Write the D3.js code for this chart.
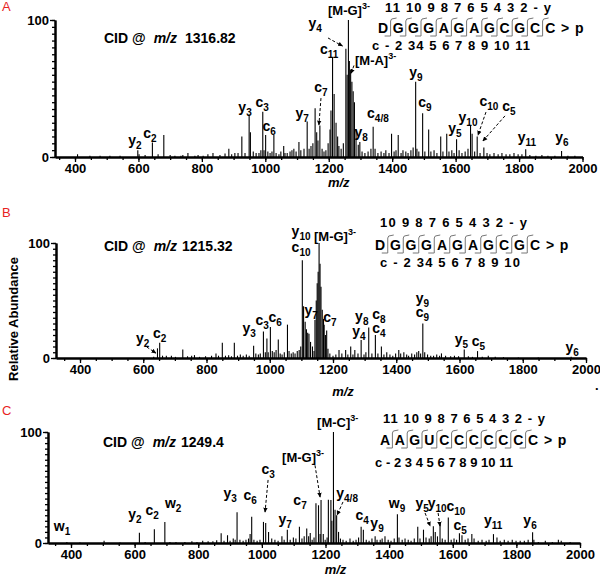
<!DOCTYPE html>
<html><head><meta charset="utf-8">
<script src="https://cdn.jsdelivr.net/npm/d3@7"></script>
<style>
body{margin:0;background:#fff}
svg{display:block}
text{font-family:'Liberation Sans',Arial,sans-serif;}
</style>
</head><body>
<svg id="c" width="600" height="578"></svg>
<script>
// ---------- DATA ----------
// [m/z, relative abundance %]
const peaksA = [[408,2],[447,1],[479,1],[510,1],[542,1],[598,5],[602,2],[621,1.5],[644,10.5],[662,2],[680,16],[700,1.5],[715,1],[734,1],[740,1.5],[756,3],[778,1],[788,1.5],[804,1],[819,2],[835,3],[857,1.5],[873,2.5],[885,6],[894,2],[904,3],[914,3],[926,15],[936,3],[949,31],[953,18],[962,4],[971,3],[980,3],[986,5],[992,33],[996,5],[1001,16],[1008,4],[1015,3],[1021,4],[1027,16],[1034,3],[1043,2],[1049,4],[1058,8],[1062,3],[1069,3],[1078,4],[1084,5],[1090,6],[1097,4],[1106,11],[1112,5],[1122,6],[1132,26],[1138,6],[1144,8],[1150,10],[1157,35.5],[1162,18],[1166,12],[1172,23],[1179,6],[1185,4],[1191,5],[1198,10],[1204,20],[1207,34],[1212,73],[1217,46],[1223,25],[1228,15],[1232,8],[1239,6],[1246,10],[1254,79],[1258,60],[1262,100],[1265,70],[1269,63.5],[1273,55],[1277,48],[1281,40],[1286,20],[1293,9],[1298,11],[1305,4],[1314,3],[1324,4],[1333,6],[1340,22],[1346,6],[1355,3],[1365,4],[1374,3],[1380,5],[1390,3],[1398,17],[1406,4],[1412,5],[1419,16],[1428,3],[1434,5],[1443,4],[1450,3],[1459,5],[1466,7],[1474,55],[1478,6],[1484,4],[1496,32],[1503,4],[1515,20],[1522,4],[1532,5],[1541,3],[1553,15],[1560,4],[1572,17],[1579,4],[1588,5],[1595,3],[1603,13],[1611,5],[1620,3],[1630,4],[1639,6],[1647,23],[1652,17],[1660,4],[1668,15],[1677,3],[1689,7],[1699,3],[1708,2],[1721,3],[1734,2],[1746,3],[1759,2],[1771,2],[1784,3],[1797,2],[1809,2],[1821,5.6],[1834,1.5],[1853,1],[1872,1.5],[1891,1],[1913,1],[1934,4.4],[1954,1],[1976,1]];

const peaksB = [[633,1],[645,8.4],[652,13.3],[661,2],[673,2],[689,2],[702,1],[725,7.5],[740,1.5],[753,2],[762,2.5],[778,1],[797,1.5],[816,2],[830,4],[838,2],[850,13.3],[860,2],[870,2.5],[879,1.5],[888,13.3],[898,2],[907,3],[916,2],[926,3],[935,2],[949,10.7],[956,4],[964,3],[970,4],[980,23],[986,5],[991,17],[995,5],[1002,27],[1008,6],[1014,5],[1020,7],[1027,16],[1033,4],[1039,3],[1046,5],[1056,29],[1061,6],[1068,4],[1074,5],[1080,4],[1087,6],[1093,7],[1098,10],[1103,85],[1107,45],[1112,31.6],[1116,25],[1120,22],[1124,21],[1129,14],[1135,10],[1140,6],[1143,33],[1147,50],[1150,65],[1153,75],[1156,100],[1159,82],[1162,62],[1166,42],[1170,34],[1172,29],[1176,20],[1180,24],[1184,8],[1190,4],[1200,2],[1209,3],[1219,7],[1228,4],[1240,7],[1247,3],[1256,10],[1263,3],[1269,7],[1279,4],[1289,15.6],[1298,3],[1304,5],[1313,26.6],[1323,4],[1334,20],[1342,4],[1353,10],[1361,3],[1370,5],[1380,3],[1389,2],[1398,4],[1408,7],[1414,4],[1424,5],[1433,3],[1439,2],[1449,4],[1458,3],[1465,5],[1471,6],[1477,4],[1484,30],[1490,5],[1499,3],[1509,2],[1518,2],[1528,3],[1537,2],[1543,4],[1556,2],[1572,1.5],[1584,2],[1597,1.5],[1615,7.5],[1628,1.5],[1641,1],[1657,6],[1672,1],[1691,2],[1713,1],[1739,0.8],[1786,0.5],[1849,0.5],[1953,1]];

const peaksC = [[387,1],[428,0.5],[504,2],[554,0.5],[615,9.3],[633,1],[662,12.3],[695,19],[711,1],[730,1],[758,1],[780,1.5],[796,1],[814,2],[831,1.5],[846,1.5],[858,2.5],[872,8.7],[881,2],[892,7],[900,2],[910,4],[916,3],[922,27.6],[931,3],[941,2],[950,3],[958,4],[963,8],[968,23.7],[975,3],[985,2],[994,3],[1005,19],[1012,18],[1021,10],[1031,4],[1041,3],[1051,2],[1063,6],[1070,3],[1080,12],[1089,3],[1099,5],[1107,4],[1118,14.6],[1126,4],[1133,6],[1141,13],[1147,6],[1152,9],[1158,3],[1164,5],[1170,35.7],[1178,34],[1183,8],[1186,38.7],[1193,8],[1199,3],[1205,5],[1209,39],[1217,38.7],[1220,20],[1225,100],[1230,30],[1235,25],[1241,10],[1247,4],[1255,3],[1265,2],[1277,4],[1287,2],[1296,3],[1304,5],[1312,14.6],[1319,12],[1328,3],[1337,2],[1346,4],[1356,6],[1362,3],[1372,3],[1378,4],[1387,6],[1397,3],[1406,2],[1416,4],[1426,26],[1431,5],[1441,3],[1450,4],[1460,3],[1469,2],[1479,4],[1490,14.6],[1497,4],[1508,12],[1516,5],[1526,4],[1532,6],[1539,15],[1545,10],[1552,6],[1560,18],[1567,4],[1576,3],[1586,23],[1595,3],[1604,4],[1612,3],[1621,8.7],[1629,7],[1639,3],[1648,4],[1660,8],[1667,4],[1680,2],[1692,3],[1705,2],[1714,3],[1728,8],[1739,5],[1749,2],[1762,3],[1774,2],[1787,3],[1799,2],[1812,2],[1825,2],[1837,3],[1851,9.6],[1855,3],[1869,1],[1891,2],[1913,1],[1932,3],[1941,2],[1969,1]];

// ion labels: [letter, subscript, m/z, abundance] (label centre / baseline)
const labelsA = [['y','2',589,8.8],['c','2',636,13.9],['y','3',936,32.8],['c','3',990,36.5],['c','6',1012,19],['y','7',1116,28.5],['c','7',1175,47.4],['c','11',1201,75],['y','4',1157,94],['y','8',1302,14.6],['c','4/8',1355,28.5],['y','9',1475,58.4],['c','9',1503,36.5],['y','10',1639,25.5],['y','5',1598,17.5],['c','10',1705,37],['c','5',1768,33.6],['y','11',1825,11],['y','6',1935,11]];
const labelsB = [['y','2',598,13],['c','2',652,17.4],['y','3',935,21.7],['c','3',976,28.7],['c','6',1017,31.3],['y','10',1099,106],['c','10',1099,92],['y','7',1131,37.4],['c','7',1190,31.3],['y','4',1282,19],['y','8',1291,32],['c','8',1345,34],['c','4',1345,21.7],['y','9',1483,47.8],['c','9',1483,35.6],['y','5',1606,12.2],['c','5',1660,10.4],['y','6',1956,5.2]];
const labelsC = [['w','1',372,10.8],['y','2',601,21.6],['c','2',655,25],['w','2',721,31.5],['y','3',900,40.5],['c','6',963,38.7],['c','3',1019.5,62.2],['y','7',1073,17],['c','7',1120,34.2],['y','4/8',1268,40.5],['c','4',1315,20.7],['y','9',1362,13.5],['w','9',1425,31.5],['y','5',1504,31.5],['y','10',1551,31.5],['c','10',1610,28.5],['c','5',1623,12],['y','11',1727,16.2],['y','6',1843,16.2]];

// precursor-loss labels: [text, superscript, m/z (left), abundance]
const chargesA = [['[M-G]','3-',1197.6,103.6],['[M-A]','3-',1282.7,67.5]];
const chargesB = [['[M-G]','3-',1140,101.7]];
const chargesC = [['[M-G]','3-',1063.5,73],['[M-C]','3-',1173.6,104.5]];

// dashed arrows: [m/z1, ab1, m/z2, ab2]
const arrowsA = [[1175.5,43,1169,23.4],[1197.6,86.9,1243.3,81],[1279.6,66.8,1270,61],[1695.7,32.8,1670.5,16],[1755.6,30,1686,11.7]];
const arrowsB = [[611,9.6,640,4.3]];
const arrowsC = [[1019.5,56.8,1010,27.9],[1167,70,1183,41.4],[1255,37,1236.5,25.2],[1513,27,1529,15.3],[1554,27,1560,15.3]];

const cidA = '1316.82', cidB = '1215.32', cidC = '1249.4';
const seqA = ['D','G','G','G','A','G','A','G','C','G','C','C'];
const seqB = ['D','G','G','G','A','G','A','G','C','G','C'];
const seqC = ['A','A','G','U','C','C','C','C','C','C','C'];
const topA = '11 10 9 8 7 6 5 4 3 2 - y', botA = 'c - 2 34 5 6 7 8 9 10 11';
const topB = '10 9 8 7 6 5 4 3 2 - y',    botB = 'c - 2 34 5 6 7 8 9 10';
const topC = '11 10 9 8 7 6 5 4 3 2 - y', botC = 'c - 2 3 4 5 6 7 8 9 10 11';
const majorTicks = d3.range(400, 2001, 200);
const minorTicks = d3.range(350, 2001, 50);

// ---------- LAYOUT ----------
const panels = [
 {tag:'A', peaks:peaksA, labels:labelsA, charges:chargesA, arrows:arrowsA, cid:cidA, seq:seqA, top:topA, bot:botA,
  L:{left:55,x400:75,x2000:582.5,yT:20,yB:157,tagY:11,cidX:104,cidY:43,sx:383,sy:33,step:15.2,topX:385,topY:12,topW:166,botX:372,botY:50,botW:158,mzY:187}},
 {tag:'B', peaks:peaksB, labels:labelsB, charges:chargesB, arrows:arrowsB, cid:cidB, seq:seqB, top:topB, bot:botB,
  L:{left:56,x400:80,x2000:586,yT:243,yB:358,tagY:217,cidX:104,cidY:251,sx:380,sy:250,step:15.5,topX:380,topY:227,topW:147,botX:380,botY:267,botW:140,mzY:396}},
 {tag:'C', peaks:peaksC, labels:labelsC, charges:chargesC, arrows:arrowsC, cid:cidC, seq:seqC, top:topC, bot:botC,
  L:{left:48,x400:71,x2000:580,yT:432,yB:543,tagY:415,cidX:103,cidY:447,sx:385,sy:445,step:14.8,topX:383,topY:423,topW:162,botX:375,botY:467,botW:138,mzY:574}}
];

const svg = d3.select('#c');
svg.append('rect').attr('width',600).attr('height',578).attr('fill','#fff');
svg.append('defs').append('marker').attr('id','ah').attr('viewBox','0 0 8 8')
  .attr('refX',7).attr('refY',4).attr('markerWidth',5).attr('markerHeight',5).attr('orient','auto')
  .append('path').attr('d','M0,0.5L8,4L0,7.5z').attr('fill','#000');

panels.forEach(p => {
  const L = p.L;
  const base = d3.scaleLinear().domain([400,2000]).range([L.x400,L.x2000]);
  const lo = base.invert(L.left);
  const x = base.copy().domain([lo,2000]).range([L.left,L.x2000]);
  const y = d3.scaleLinear().domain([0,100]).range([L.yB,L.yT]);
  const g = svg.append('g');

  // peaks
  g.append('g').selectAll('line').data(p.peaks).join('line')
    .attr('x1',d=>x(d[0])).attr('x2',d=>x(d[0]))
    .attr('y1',y(0)).attr('y2',d=>y(d[1]))
    .attr('stroke','#000').attr('stroke-width',1.1);

  // x axis
  const xa = g.append('g').attr('transform',`translate(0,${L.yB})`);
  xa.call(d3.axisBottom(x).tickValues(minorTicks).tickSize(3).tickSizeOuter(0).tickFormat(''));
  const xb = g.append('g').attr('transform',`translate(0,${L.yB})`);
  xb.call(d3.axisBottom(x).tickValues(majorTicks).tickSize(5).tickSizeOuter(0).tickPadding(2).tickFormat(d3.format('d')));
  [xa,xb].forEach(a=>{a.select('.domain').attr('stroke-width',2);a.selectAll('.tick line').attr('stroke-width',1.3);});
  xb.selectAll('text').attr('font-size',13).attr('font-weight','bold').attr('font-family',"'Liberation Sans',Arial,sans-serif").attr('fill','#000');

  // y axis
  const ya = g.append('g').attr('transform',`translate(${L.left},0)`);
  ya.call(d3.axisLeft(y).tickValues(d3.range(0,101,5)).tickSize(3).tickSizeOuter(0).tickFormat(''));
  const yb = g.append('g').attr('transform',`translate(${L.left},0)`);
  yb.call(d3.axisLeft(y).tickValues([0,100]).tickSize(5).tickSizeOuter(0).tickPadding(1).tickFormat(d3.format('d')));
  [ya,yb].forEach(a=>{a.select('.domain').attr('stroke-width',2);a.selectAll('.tick line').attr('stroke-width',1.3);});
  yb.selectAll('text').attr('font-size',13).attr('font-weight','bold').attr('font-family',"'Liberation Sans',Arial,sans-serif").attr('fill','#000');

  // axis title
  g.append('text').attr('x',x(1200)+10).attr('y',L.mzY).attr('text-anchor','middle')
    .attr('font-size',13).attr('font-weight','bold').attr('font-style','italic').text('m/z');

  // panel tag
  g.append('text').attr('x',2).attr('y',L.tagY).attr('font-size',13).attr('fill','#e8231f').text(p.tag);

  // CID text
  const ct = g.append('text').attr('x',L.cidX).attr('y',L.cidY).attr('font-size',14).attr('font-weight','bold');
  ct.append('tspan').text('CID @');
  ct.append('tspan').attr('dx',8).attr('font-style','italic').text('m/z');
  ct.append('tspan').attr('dx',p.tag==='A'?8:5).text(p.cid);

  // ion labels
  p.labels.forEach(d=>{
    const t = g.append('text').attr('x',x(d[2])).attr('y',y(d[3])).attr('text-anchor','middle')
      .attr('font-size',14).attr('font-weight','bold');
    t.append('tspan').text(d[0]);
    t.append('tspan').attr('font-size',10).attr('dy',4).text(d[1]);
  });
  p.charges.forEach(d=>{
    const t = g.append('text').attr('x',x(d[2])).attr('y',y(d[3])).attr('font-size',13).attr('font-weight','bold');
    t.append('tspan').text(d[0]);
    t.append('tspan').attr('font-size',9).attr('dy',-6).text(d[1]);
  });
  p.arrows.forEach(d=>{
    g.append('line').attr('x1',x(d[0])).attr('y1',y(d[1])).attr('x2',x(d[2])).attr('y2',y(d[3]))
      .attr('stroke','#000').attr('stroke-width',1).attr('stroke-dasharray','3,2').attr('marker-end','url(#ah)');
  });

  // sequence inset
  const sg = g.append('g');
  sg.append('text').attr('x',L.topX).attr('y',L.topY).attr('font-size',13).attr('font-weight','bold')
    .attr('textLength',L.topW).attr('lengthAdjust','spacing').text(p.top);
  sg.append('text').attr('x',L.botX).attr('y',L.botY).attr('font-size',13).attr('font-weight','bold')
    .attr('textLength',L.botW).attr('lengthAdjust','spacing').text(p.bot);
  const n = p.seq.length;
  p.seq.forEach((s,i)=>{
    sg.append('text').attr('x',L.sx+i*L.step).attr('y',L.sy).attr('text-anchor','middle')
      .attr('font-size',14).attr('font-weight','bold').text(s);
  });
  const lastX = L.sx+(n-1)*L.step;
  sg.append('text').attr('x',lastX+15).attr('y',L.sy).attr('text-anchor','middle').attr('font-size',14).attr('font-weight','bold').text('>');
  sg.append('text').attr('x',lastX+29).attr('y',L.sy).attr('text-anchor','middle').attr('font-size',14).attr('font-weight','bold').text('p');
  for(let i=0;i<n-1;i++){
    const gx = L.sx+(i+0.5)*L.step, t0 = L.sy-14, b0 = L.sy+3;
    sg.append('path').attr('d',`M${gx+6},${t0-1}L${gx+1},${t0}L${gx},${t0+2}L${gx},${b0}L${gx-6},${b0}`)
      .attr('fill','none').attr('stroke','#777').attr('stroke-width',1);
  }
});

// shared y-axis title
svg.append('text').attr('transform','translate(18,319) rotate(-90)').attr('text-anchor','middle')
  .attr('font-size',13).attr('font-weight','bold').text('Relative Abundance');
svg.append('text').attr('x',595).attr('y',390).attr('font-size',13).attr('font-weight','bold').text('.');
</script>
</body></html>
